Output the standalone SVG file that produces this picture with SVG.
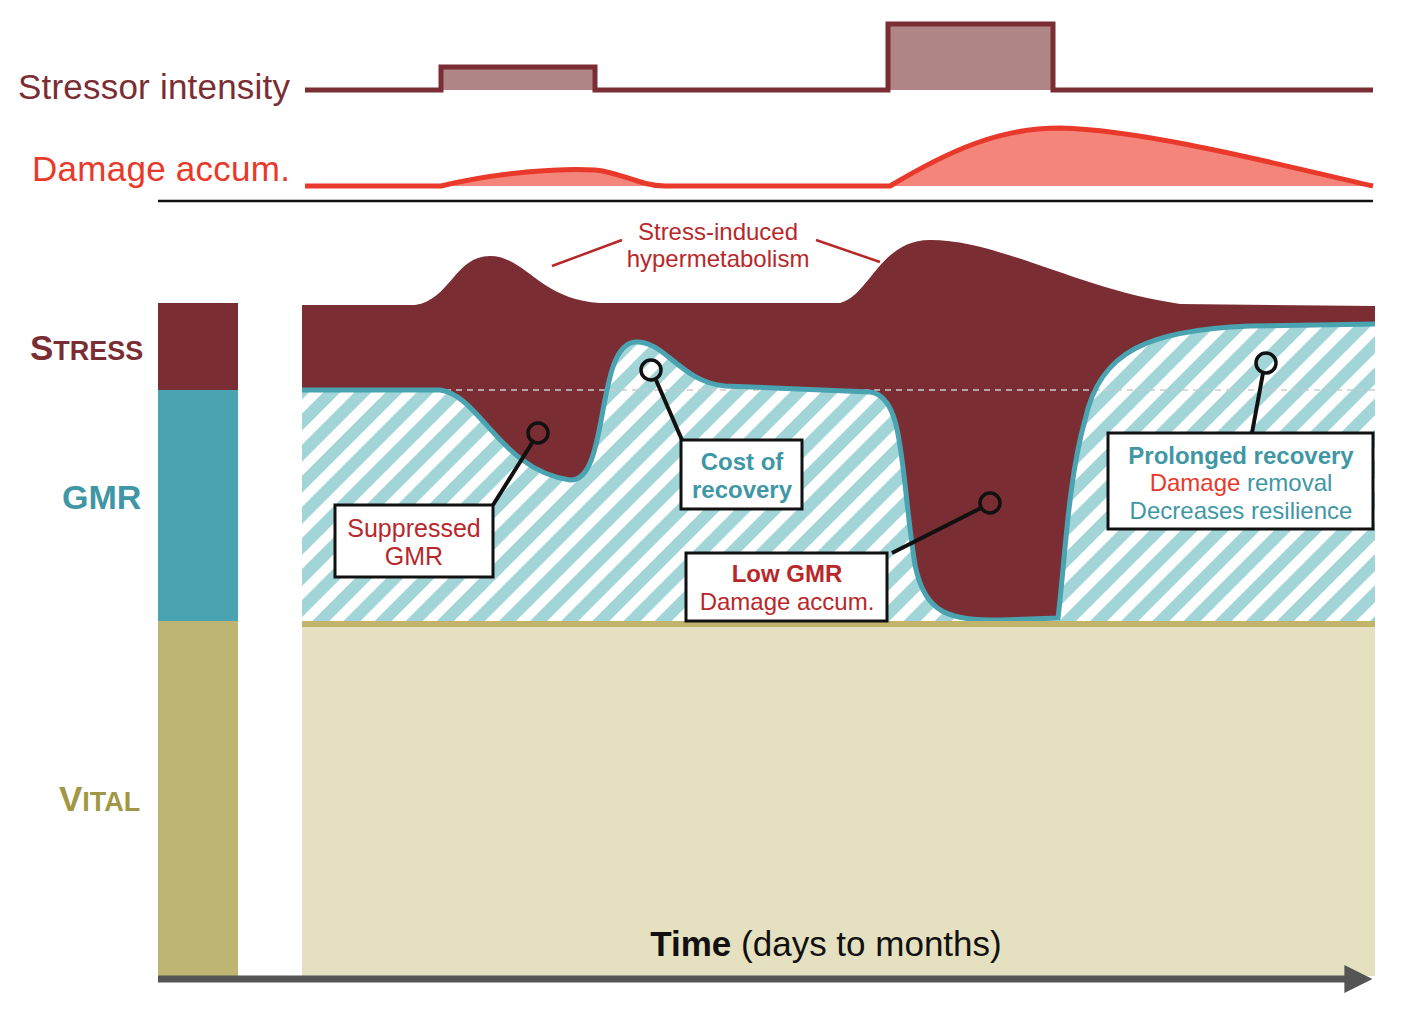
<svg xmlns="http://www.w3.org/2000/svg" width="1411" height="1026" viewBox="0 0 1411 1026">
<defs>
<pattern id="hatch" patternUnits="userSpaceOnUse" width="22" height="22" patternTransform="rotate(45)">
<rect width="22" height="22" fill="#ffffff"/>
<rect width="12" height="22" fill="#a2d5d8"/>
</pattern>
<marker id="arr" viewBox="0 0 10 10" refX="2" refY="5" markerWidth="4" markerHeight="4" orient="auto" markerUnits="strokeWidth"><path d="M0,0 L10,5 L0,10 Z" fill="#555"/></marker>
</defs>
<style>
text{font-family:"Liberation Sans",Arial,sans-serif}
.box{fill:#fff;stroke:#111;stroke-width:3}
.lead{stroke:#111;stroke-width:4;fill:none}
.pin{fill:none;stroke:#111;stroke-width:3.5}
.teal{fill:#3f97a5}
.red{fill:#b8282a}
</style>
<rect width="1411" height="1026" fill="#fff"/>
<g id="stressor">
<path d="M305,90 L441,90 L441,67 L595,67 L595,90 L888,90 L888,24 L1053,24 L1053,90 L1373,90" fill="#b08585" stroke="#7b2d34" stroke-width="5"/>
<text x="18" y="99" font-size="35" fill="#7b2d34" textLength="272">Stressor intensity</text>
</g>
<g id="damage">
<path d="M305,186 L441,186 C500,172 560,168 595,170 C620,172 640,186 665,186 L890,186 C950,150 1000,128 1060,128 C1150,130 1300,170 1373,186 Z" fill="#f4857a"/>
<path d="M305,186 L441,186 C500,172 560,168 595,170 C620,172 640,186 665,186 L890,186 C950,150 1000,128 1060,128 C1150,130 1300,170 1373,186" fill="none" stroke="#e8392b" stroke-width="5"/>
<text x="32" y="181" font-size="35" fill="#e8392b" textLength="258">Damage accum.</text>
<line x1="158" y1="201" x2="1373" y2="201" stroke="#111" stroke-width="2.5"/>
</g>
<g id="left-bar">
<rect x="158" y="303" width="80" height="87" fill="#7b2d34"/>
<rect x="158" y="390" width="80" height="231" fill="#4aa3b0"/>
<rect x="158" y="621" width="80" height="355" fill="#bfb572"/>
<text x="30" y="360" font-size="35" font-weight="bold" fill="#7b2d34">S<tspan font-size="27">TRESS</tspan></text>
<text x="62" y="509" font-size="34" font-weight="bold" fill="#3f97a5">GMR</text>
<text x="59" y="811" font-size="35" font-weight="bold" fill="#a19747">V<tspan font-size="27">ITAL</tspan></text>
</g>
<g id="main">
<rect x="302" y="621" width="1073" height="355" fill="#e5e0c0"/>
<path d="M302,305 L415,305 C450,300 455,256 490,256 C525,256 540,300 600,303 L840,303 C870,295 880,240 930,240 C1000,240 1080,290 1180,304 L1375,306 L1375,621 L302,621 Z" fill="#7b2d34"/>
<path d="M302,390 L440,390 C480,395 500,470 570,480 C610,482 595,345 635,342 C665,340 680,382 725,386 L870,392 C905,396 900,470 915,565 C925,615 950,620 1000,620 L1058,618 C1065,560 1068,480 1085,420 C1100,350 1150,330 1250,326 L1375,324 L1375,621 L302,621 Z" fill="url(#hatch)"/>
<line x1="302" y1="390" x2="1375" y2="390" stroke="#ccc" stroke-width="1.5" stroke-dasharray="6,5"/>
<path d="M302,390 L440,390 C480,395 500,470 570,480 C610,482 595,345 635,342 C665,340 680,382 725,386 L870,392 C905,396 900,470 915,565 C925,615 950,620 1000,620 L1058,618 C1065,560 1068,480 1085,420 C1100,350 1150,330 1250,326 L1375,324" fill="none" stroke="#4aa3b0" stroke-width="5"/>
<rect x="302" y="621" width="1073" height="6" fill="#c2b46b"/>
<text x="718" y="240" font-size="24" fill="#b8282a" text-anchor="middle">Stress-induced</text>
<text x="718" y="267" font-size="24" fill="#b8282a" text-anchor="middle">hypermetabolism</text>
<line x1="622" y1="240" x2="552" y2="266" stroke="#b8282a" stroke-width="2.5"/>
<line x1="816" y1="240" x2="880" y2="262" stroke="#b8282a" stroke-width="2.5"/>
</g>
<g id="connectors">
<line class="lead" x1="532" y1="443" x2="493" y2="505"/>
<line class="lead" x1="656" y1="380" x2="682" y2="440"/>
<line class="lead" x1="981" y1="508" x2="892" y2="553"/>
<line class="lead" x1="1263" y1="373" x2="1252" y2="433"/>
<circle class="pin" cx="538" cy="433" r="10"/>
<circle class="pin" cx="651" cy="370" r="10"/>
<circle class="pin" cx="990" cy="503" r="10"/>
<circle class="pin" cx="1266" cy="363" r="10"/>
</g>
<g id="n-suppressed"><rect class="box" x="335" y="505" width="158" height="72"/>
<text x="414" y="537" font-size="25" class="red" text-anchor="middle">Suppressed</text>
<text x="414" y="565" font-size="25" class="red" text-anchor="middle">GMR</text></g>
<g id="n-cost"><rect class="box" x="681" y="440" width="121" height="69"/>
<text x="742" y="470" font-size="24" font-weight="bold" class="teal" text-anchor="middle">Cost of</text>
<text x="742" y="498" font-size="24" font-weight="bold" class="teal" text-anchor="middle">recovery</text></g>
<g id="n-low"><rect class="box" x="686" y="553" width="201" height="68"/>
<text x="787" y="582" font-size="24" font-weight="bold" class="red" text-anchor="middle">Low GMR</text>
<text x="787" y="610" font-size="24" class="red" text-anchor="middle">Damage accum.</text></g>
<g id="n-prolonged"><rect class="box" x="1108" y="433" width="265" height="96"/>
<text x="1241" y="464" font-size="24" font-weight="bold" class="teal" text-anchor="middle">Prolonged recovery</text>
<text x="1241" y="491" font-size="24" text-anchor="middle"><tspan fill="#e8392b">Damage</tspan><tspan class="teal"> removal</tspan></text>
<text x="1241" y="519" font-size="24" class="teal" text-anchor="middle">Decreases resilience</text></g>
<g id="axis">
<line x1="158" y1="979" x2="1350" y2="979" stroke="#555" stroke-width="7" marker-end="url(#arr)"/>
<text x="826" y="956" font-size="35" fill="#111" text-anchor="middle"><tspan font-weight="bold">Time</tspan> (days to months)</text>
</g>
</svg>
